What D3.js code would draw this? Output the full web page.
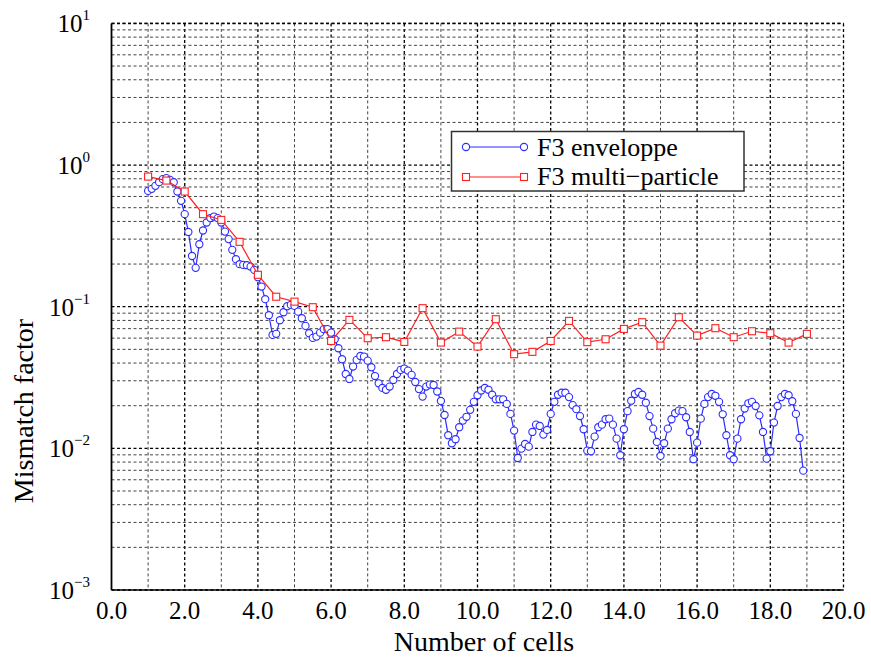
<!DOCTYPE html>
<html>
<head>
<meta charset="utf-8">
<script src="https://cdn.jsdelivr.net/npm/d3@7"></script>
<style>
  html, body { margin: 0; padding: 0; background: #fff; }
</style>
</head>
<body>
<svg id="chart" width="871" height="662"></svg>
<script>
// ---- data ----
const envX = d3.range(10, 190).map(i => i / 10); // 1.0 .. 18.9, step 0.1
const envValues = [
  0.657, 0.679, 0.713, 0.757, 0.795, 0.808, 0.786, 0.757, 0.650, 0.559,
  0.450, 0.337, 0.228, 0.188, 0.276, 0.345, 0.393, 0.422, 0.433, 0.422,
  0.393, 0.339, 0.300, 0.252, 0.2165, 0.1996, 0.1973, 0.1963, 0.1919, 0.1819,
  0.1615, 0.1387, 0.1130, 0.0871, 0.0632, 0.0643, 0.0803, 0.0914, 0.1008, 0.1030,
  0.1013, 0.0923, 0.0829, 0.0732, 0.0650, 0.0602, 0.0615, 0.0656, 0.0694, 0.0694,
  0.0656, 0.0589, 0.0509, 0.0426, 0.0335, 0.0309, 0.0378, 0.0421, 0.0449, 0.0444,
  0.0416, 0.0374, 0.0324, 0.0288, 0.0267, 0.0259, 0.0273, 0.0304, 0.0335, 0.0358,
  0.0366, 0.0354, 0.0330, 0.0294, 0.0262, 0.0232, 0.0273, 0.0282, 0.0280, 0.0252,
  0.0216, 0.0172, 0.01238, 0.01086, 0.0116, 0.0141, 0.0157, 0.0167, 0.0187, 0.0213,
  0.0237, 0.0256, 0.0267, 0.0259, 0.0239, 0.0222, 0.0222, 0.0222, 0.0206, 0.0175,
  0.01334, 0.00855, 0.00995, 0.01074, 0.01028, 0.01305, 0.01470, 0.01439, 0.01250, 0.01349,
  0.0175, 0.0213, 0.0239, 0.0247, 0.0247, 0.0230, 0.0202, 0.0189, 0.0169, 0.01364,
  0.00963, 0.00954, 0.01209, 0.0141, 0.0147, 0.01605, 0.01621, 0.0147, 0.01171, 0.00894,
  0.01364, 0.0183, 0.0217, 0.0242, 0.0250, 0.0239, 0.0210, 0.0169, 0.01377, 0.01110,
  0.00884, 0.01086, 0.01377, 0.01605, 0.0177, 0.01846, 0.0183, 0.01658, 0.01305, 0.00838,
  0.01097, 0.01621, 0.0206, 0.0230, 0.0242, 0.0235, 0.0213, 0.0174, 0.01238, 0.00894,
  0.00838, 0.01171, 0.01605, 0.0191, 0.0208, 0.0213, 0.0199, 0.0171, 0.01305, 0.00846,
  0.00954, 0.0152, 0.0199, 0.0230, 0.0242, 0.0237, 0.0215, 0.0175, 0.01184, 0.00696
];
const mpX = d3.range(2, 39).map(i => i / 2); // 1.0 .. 19.0, step 0.5
const mpValues = [
  0.829, 0.777, 0.650, 0.450, 0.410, 0.287, 0.168, 0.1176, 0.1086, 0.0992,
  0.0573, 0.0807, 0.0599, 0.0609, 0.0564, 0.0976, 0.0558, 0.0667, 0.0523, 0.0816,
  0.0462, 0.0480, 0.0573, 0.0794, 0.0562, 0.0589, 0.0697, 0.0777, 0.0531, 0.0843,
  0.0625, 0.0705, 0.0609, 0.0671, 0.0650, 0.0558, 0.0643
];
const xTickValues = [0, 2, 4, 6, 8, 10, 12, 14, 16, 18, 20];
const yTickExponents = [-3, -2, -1, 0, 1];
const seriesNames = ["F3 enveloppe", "F3 multi\u2212particle"];

(function () {
// ---- layout ----
const FONT = "'Liberation Serif', 'Times New Roman', Times, 'DejaVu Serif', serif";
const svg = d3.select("#chart").attr("font-family", FONT);
const pL = 111.5, pR = 843.5, pT = 23.4, pB = 590;
const x = d3.scaleLinear().domain([0, 20]).range([pL, pR]);
const y = d3.scaleLog().domain([1e-3, 10]).range([pB, pT]);

const blue = "#2b2bff", red = "#ff2020";

// grid
const grid = svg.append("g");
const minorX = d3.range(1, 20).filter(v => v % 2 !== 0);
const majorX = d3.range(2, 20, 2);
grid.selectAll(".vminor").data(minorX).join("line")
  .attr("x1", d => x(d)).attr("x2", d => x(d)).attr("y1", pT).attr("y2", pB)
  .attr("stroke", "#444").attr("stroke-width", 1).attr("stroke-dasharray", "3,2.5");
grid.selectAll(".vmajor").data(majorX).join("line")
  .attr("x1", d => x(d)).attr("x2", d => x(d)).attr("y1", pT).attr("y2", pB)
  .attr("stroke", "#000").attr("stroke-width", 1.3).attr("stroke-dasharray", "3,2.5");
const minorY = [];
for (let e = -3; e < 1; e++) for (let m = 2; m <= 9; m++) minorY.push(m * Math.pow(10, e));
grid.selectAll(".hminor").data(minorY).join("line")
  .attr("x1", pL).attr("x2", pR).attr("y1", d => y(d)).attr("y2", d => y(d))
  .attr("stroke", "#444").attr("stroke-width", 1).attr("stroke-dasharray", "3,2.5");
grid.selectAll(".hmajor").data(yTickExponents).join("line")
  .attr("x1", pL).attr("x2", pR).attr("y1", d => y(Math.pow(10, d))).attr("y2", d => y(Math.pow(10, d)))
  .attr("stroke", "#000").attr("stroke-width", 1.3).attr("stroke-dasharray", "3,2.5");

// frame
svg.append("line").attr("x1", pL).attr("x2", pL).attr("y1", pT).attr("y2", pB)
  .attr("stroke", "#000").attr("stroke-width", 1.8);
svg.append("line").attr("x1", pL).attr("x2", pR).attr("y1", pB).attr("y2", pB)
  .attr("stroke", "#000").attr("stroke-width", 1.5);
svg.append("line").attr("x1", pR).attr("x2", pR).attr("y1", pT).attr("y2", pB)
  .attr("stroke", "#000").attr("stroke-width", 1.3).attr("stroke-dasharray", "3,2.5");
svg.append("line").attr("x1", pL).attr("x2", pR).attr("y1", pT).attr("y2", pT)
  .attr("stroke", "#000").attr("stroke-width", 1.5).attr("stroke-dasharray", "3,2.5");

// x tick labels
svg.selectAll(".xt").data(xTickValues).join("text")
  .attr("font-family", FONT)
  .attr("x", d => x(d)).attr("y", 619)
  .attr("text-anchor", "middle").attr("font-size", 25)
  .text(d => d3.format(".1f")(d));

// y tick labels
const yt = svg.selectAll(".yt").data(yTickExponents).join("text")
  .attr("font-family", FONT)
  .attr("x", 90).attr("y", d => y(Math.pow(10, d)) + 9)
  .attr("text-anchor", "end").attr("font-size", 25);
yt.append("tspan").text("10");
yt.append("tspan").attr("font-size", 15).attr("dy", -12)
  .text(d => d < 0 ? "\u2212" + Math.abs(d) : String(d));

// axis titles
svg.append("text").attr("font-family", FONT).attr("x", 484).attr("y", 651).attr("text-anchor", "middle")
  .attr("font-size", 28).text("Number of cells");
svg.append("text").attr("font-family", FONT).attr("transform", "translate(33,411) rotate(-90)")
  .attr("text-anchor", "middle").attr("font-size", 28).text("Mismatch factor");

// series
const envData = envX.map((d, i) => [d, envValues[i]]);
const mpData = mpX.map((d, i) => [d, mpValues[i]]);
const line = d3.line().x(d => x(d[0])).y(d => y(d[1]));

svg.append("path").datum(envData).attr("d", line)
  .attr("fill", "none").attr("stroke", blue).attr("stroke-width", 1.2);
svg.selectAll(".env").data(envData).join("circle")
  .attr("cx", d => x(d[0])).attr("cy", d => y(d[1])).attr("r", 3.6)
  .attr("fill", "#fff").attr("stroke", blue).attr("stroke-width", 1.1);

svg.append("path").datum(mpData).attr("d", line)
  .attr("fill", "none").attr("stroke", red).attr("stroke-width", 1.2);
svg.selectAll(".mp").data(mpData).join("rect")
  .attr("x", d => x(d[0]) - 3.5).attr("y", d => y(d[1]) - 3.5)
  .attr("width", 7).attr("height", 7)
  .attr("fill", "#fff").attr("stroke", red).attr("stroke-width", 1.1);

// legend
const lg = svg.append("g");
lg.append("rect").attr("x", 451.5).attr("y", 131.5).attr("width", 292.5).attr("height", 59.5)
  .attr("fill", "#fff").attr("stroke", "#333").attr("stroke-width", 1.5);
const rows = [{ name: seriesNames[0], color: blue, shape: "circle", cy: 147, base: 156 },
              { name: seriesNames[1], color: red, shape: "rect", cy: 177, base: 184.5 }];
rows.forEach(r => {
  lg.append("line").attr("x1", 466).attr("x2", 524).attr("y1", r.cy).attr("y2", r.cy)
    .attr("stroke", r.color).attr("stroke-width", 1.2);
  [466, 524].forEach(px => {
    if (r.shape === "circle") {
      lg.append("circle").attr("cx", px).attr("cy", r.cy).attr("r", 3.6)
        .attr("fill", "#fff").attr("stroke", r.color).attr("stroke-width", 1.1);
    } else {
      lg.append("rect").attr("x", px - 3.5).attr("y", r.cy - 3.5).attr("width", 7).attr("height", 7)
        .attr("fill", "#fff").attr("stroke", r.color).attr("stroke-width", 1.1);
    }
  });
  lg.append("text").attr("font-family", FONT).attr("x", 537).attr("y", r.base).attr("font-size", 26).text(r.name);
});
})();
</script>
</body>
</html>
